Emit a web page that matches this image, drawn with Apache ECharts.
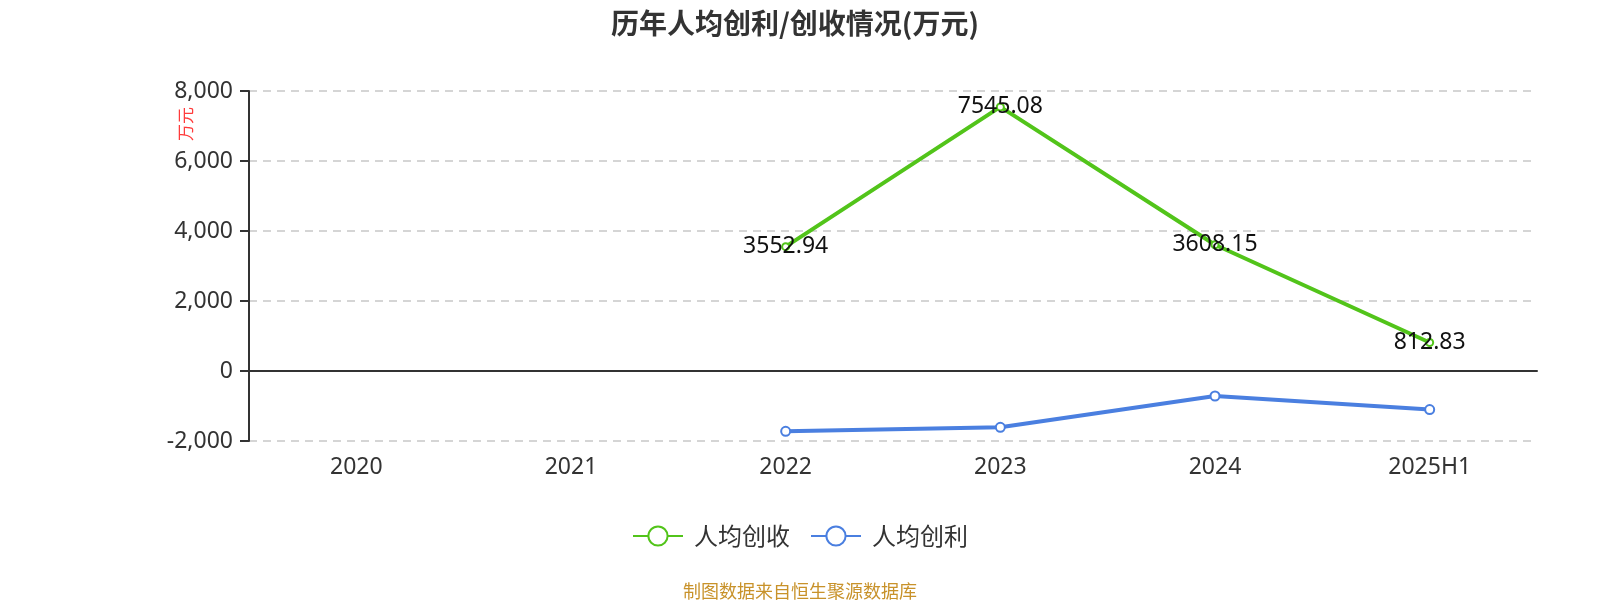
<!DOCTYPE html>
<html>
<head>
<meta charset="utf-8">
<script src="https://cdn.jsdelivr.net/npm/echarts@6/dist/echarts.min.js"></script>
<style>
  html, body { margin: 0; padding: 0; background: #fff; }
  #chart { width: 1600px; height: 600px; }
</style>
</head>
<body>
<div id="chart"></div>
<script>
// data
var years = ['2020', '2021', '2022', '2023', '2024', '2025H1'];
var revenuePerHead = [null, null, 3552.94, 7545.08, 3608.15, 812.83];
var profitPerHead = [null, null, -1723, -1609, -714, -1103];
var yTicks = { min: -2000, max: 8000, interval: 2000 };

var myChart = echarts.init(document.getElementById('chart'));

var option = {
    textStyle: { fontFamily: "'Noto Sans', 'Noto Sans CJK SC', sans-serif" },
    title: [{
        text: '历年人均创利/创收情况(万元)',
        left: 606,
        top: 4,
        textStyle: { fontSize: 28, fontWeight: 'bold', color: '#333', fontFamily: "'Noto Sans CJK SC', sans-serif" }
    }, {
        text: '制图数据来自恒生聚源数据库',
        left: 'center',
        top: 577,
        textStyle: { fontSize: 18, fontWeight: 'normal', color: '#c8922a', fontFamily: "'Noto Sans CJK SC', sans-serif" }
    }],
    legend: {
        top: 519,
        left: 'center',
        itemWidth: 50,
        itemHeight: 24,
        itemGap: 20,
        textStyle: { fontSize: 24, color: '#333', padding: [0, 0, 0, 6], fontFamily: "'Noto Sans CJK SC', sans-serif" },
        data: ['人均创收', '人均创利']
    },
    // rotated unit name left of the value axis
    graphic: [{
        type: 'text',
        x: 186,
        y: 124,
        rotation: Math.PI / 2,
        style: {
            text: '万元',
            fill: '#ff3b3b',
            fontSize: 17,
            fontFamily: "'Noto Sans CJK SC', sans-serif",
            align: 'center',
            verticalAlign: 'middle'
        }
    }],
    grid: { left: 249, right: 63, top: 91, bottom: 159 },
    xAxis: {
        type: 'category',
        data: years,
        axisLine: { onZero: true, lineStyle: { color: '#333', width: 2 } },
        axisTick: { length: 7, lineStyle: { color: '#333', width: 2 } },
        axisLabel: { fontSize: 23, color: '#333', margin: 15 }
    },
    yAxis: {
        type: 'value',
        min: yTicks.min,
        max: yTicks.max,
        interval: yTicks.interval,
        axisLine: { show: true, lineStyle: { color: '#333', width: 2 } },
        axisTick: { show: true, length: 9, lineStyle: { color: '#333', width: 2 } },
        axisLabel: { fontSize: 23, color: '#333', margin: 16 },
        splitLine: { lineStyle: { type: [8, 6], color: '#c8c8c8', width: 1.5 } }
    },
    series: [{
        name: '人均创收',
        type: 'line',
        data: revenuePerHead,
        color: '#52c41a',
        symbol: 'emptyCircle',
        symbolSize: 7,
        lineStyle: { width: 4 },
        label: {
            show: true,
            position: 'inside',
            fontSize: 23,
            color: '#111'
        }
    }, {
        name: '人均创利',
        type: 'line',
        data: profitPerHead,
        color: '#4a7fe0',
        symbol: 'emptyCircle',
        symbolSize: 9,
        lineStyle: { width: 4 }
    }]
};

myChart.setOption(option);
</script>
</body>
</html>
